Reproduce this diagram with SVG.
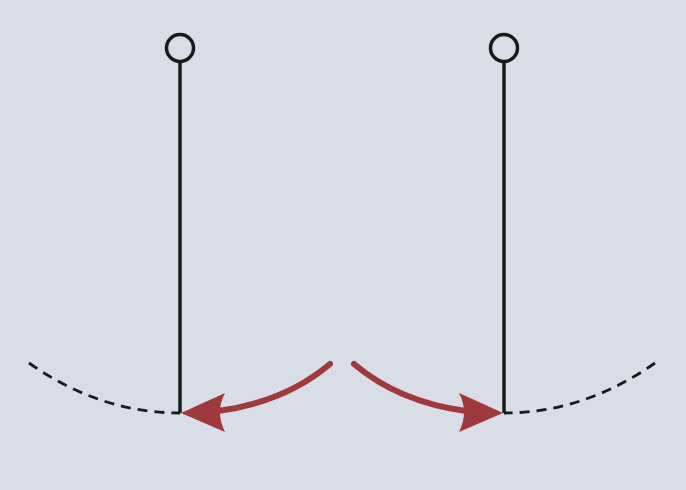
<svg xmlns="http://www.w3.org/2000/svg" width="686" height="490" viewBox="0 0 686 490">
<style>
.rod{stroke:#1a1a1a;stroke-width:3.5;fill:none}
.pivot{stroke:#1a1a1a;stroke-width:3.5;fill:#d9dde8}
.arc{stroke:#1a1a1a;stroke-width:2.8;fill:none;stroke-dasharray:10 7}
.arr{stroke:#a0393b;stroke-width:6;fill:none;stroke-linecap:round}
.head{fill:#a0393b}
</style>
<rect width="686" height="490" fill="#d9dde8"/>
<g id="pendulum-left">
<path class="arc" d="M29 363 Q100 413 180 413"/>
<line class="rod" x1="180" y1="61" x2="180" y2="413"/>
<circle class="pivot" cx="180" cy="48" r="13.5"/>
</g>
<g id="pendulum-right">
<path class="arc" d="M655 363 Q584 413 504 413"/>
<line class="rod" x1="504" y1="61" x2="504" y2="413"/>
<circle class="pivot" cx="504" cy="48" r="13.5"/>
</g>
<g id="connectors">
<path class="arr" d="M330 364 Q285 402 218 411"/>
<path class="head" d="M181 413 L225 393 Q215 412 225 432 Z"/>
<path class="arr" d="M354 364 Q399 402 466 411"/>
<path class="head" d="M503 413 L459 393 Q469 412 459 432 Z"/>
</g>
</svg>
